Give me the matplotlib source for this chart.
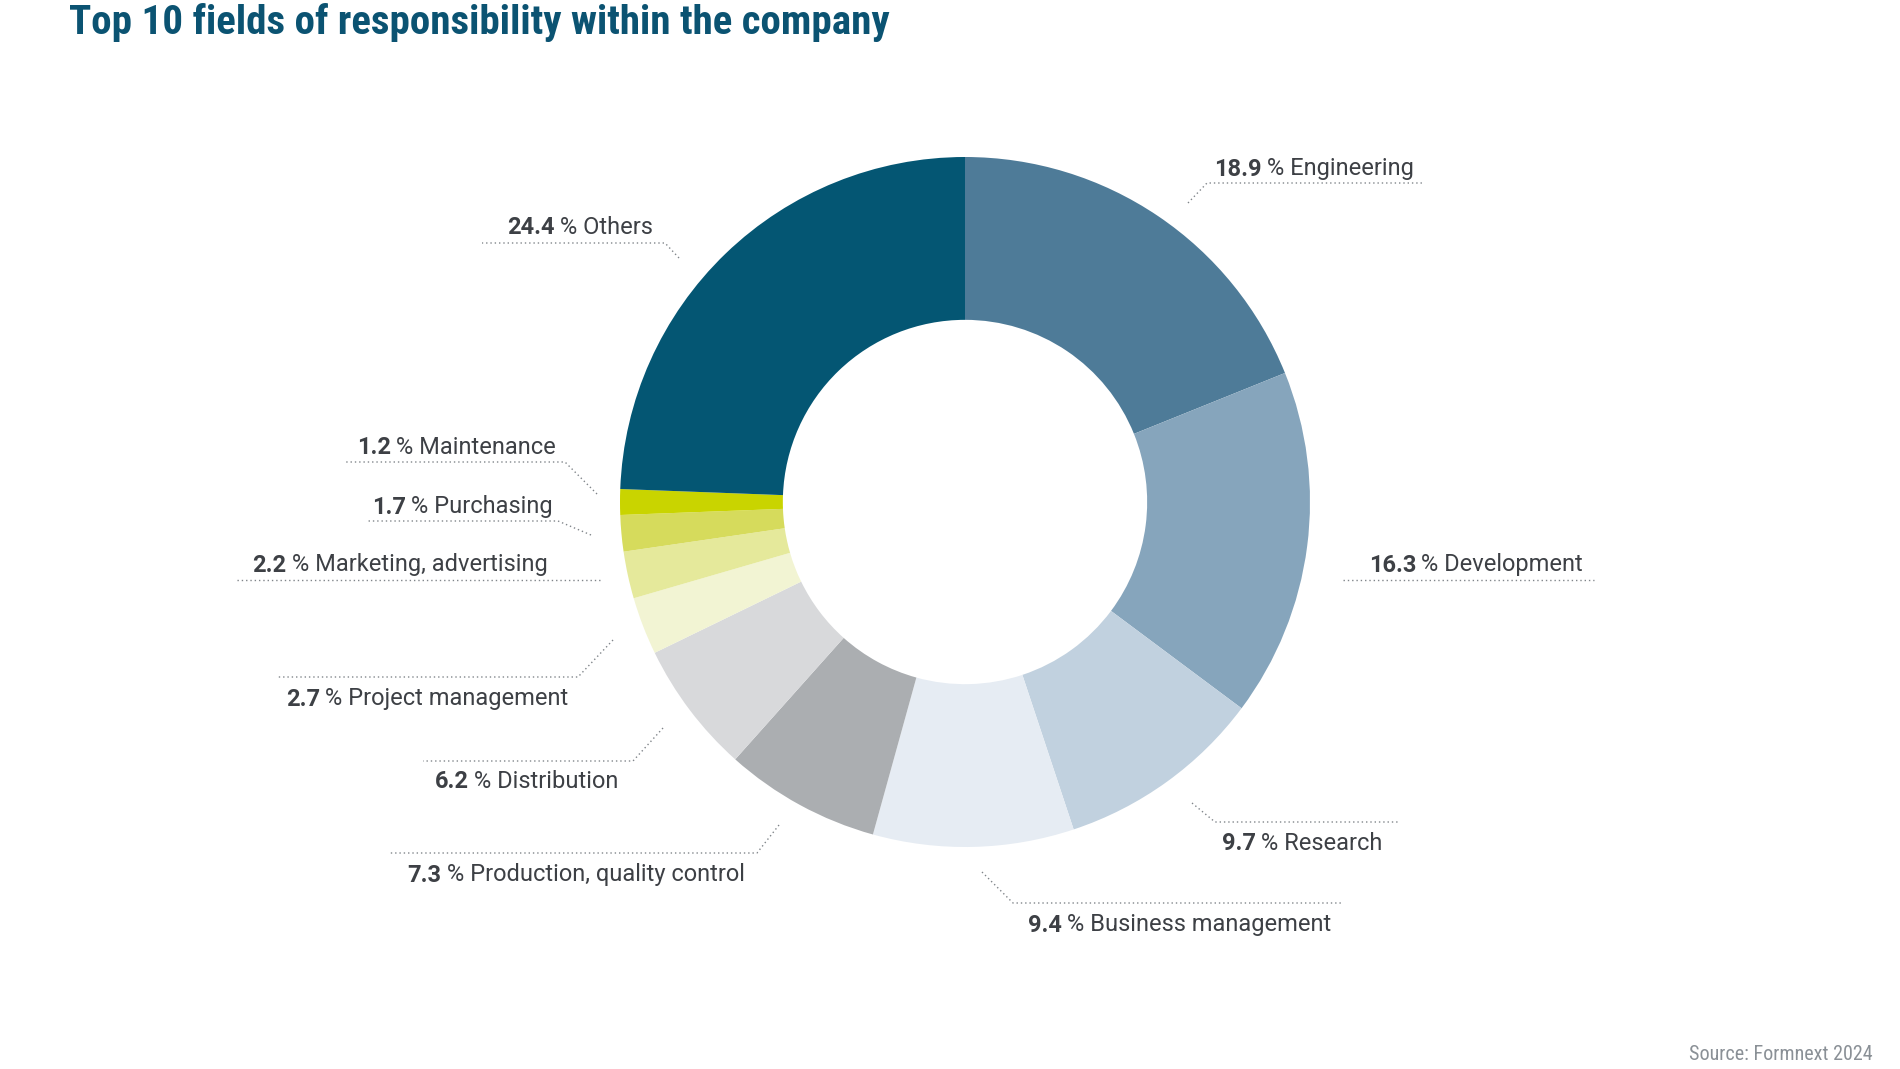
import matplotlib
matplotlib.use("Agg")
import matplotlib.pyplot as plt

# data, clockwise from 12 o'clock
fields = ["Engineering", "Development", "Research", "Business management",
          "Production, quality control", "Distribution", "Project management",
          "Marketing, advertising", "Purchasing", "Maintenance", "Others"]
shares = [18.9, 16.3, 9.7, 9.4, 7.3, 6.2, 2.7, 2.2, 1.7, 1.2, 24.4]
pct_labels = ["18.9", "16.3", "9.7", "9.4", "7.3", "6.2", "2.7", "2.2", "1.7", "1.2", "24.4"]

colors = ["#4e7b98", "#86a5bc", "#c1d1df", "#e6ecf3", "#abaeb1", "#d8d9db",
          "#f2f4d3", "#e5e99b", "#d6db5c", "#c9d400", "#045673"]

# label layout in pixels (x right, y down): leader start (None = straight line),
# elbow, far end of the underline, text centre
starts = [(1188, 203), None, (1192, 803), (982, 872), (779, 825), (663, 728),
          (613, 640), None, (591, 535), (597, 494), (679, 258)]
elbows = [(1207, 183), (1343, 580), (1215, 822), (1013, 903), (757, 853), (633, 761),
          (578, 677), (600, 580), (558, 521), (565, 462), (665, 243)]
line_end = [1423, 1594, 1398, 1343, 390, 423, 277, 235, 367, 345, 482]
text_pos = [(1314, 169), (1476, 565), (1302, 844), (1180, 925), (576, 875), (527, 781),
            (427, 699), (400, 565), (462, 507), (456, 447), (580, 227)]

W, H = 1900, 1069
CX, CY, R = 965, 502, 345

fig = plt.figure(figsize=(W / 100, H / 100), dpi=100)
fig.patch.set_facecolor("white")

ax = fig.add_axes([(CX - R) / W, 1 - (CY + R) / H, 2 * R / W, 2 * R / H])
ax.pie(shares, colors=colors, startangle=90, counterclock=False,
       radius=1, wedgeprops=dict(width=0.472, linewidth=0))
ax.set_xlim(-1, 1)
ax.set_ylim(-1, 1)
ax.axis("off")

ov = fig.add_axes([0, 0, 1, 1])
ov.set_xlim(0, W)
ov.set_ylim(H, 0)
ov.axis("off")

txt_color = "#3d4045"
lead_color = "#80858a"
fam = ["Roboto", "DejaVu Sans"]

for i in range(len(fields)):
    ex, ey = elbows[i]
    xs, ys = [ex, line_end[i]], [ey, ey]
    if starts[i] is not None:
        xs = [starts[i][0]] + xs
        ys = [starts[i][1]] + ys
    ov.plot(xs, ys, color=lead_color, lw=1.0, linestyle=(0, (1, 2.1)),
            dash_capstyle="butt")

# two-part labels: bold number + regular rest, centred as a whole
fig.canvas.draw()
renderer = fig.canvas.get_renderer()
for i in range(len(fields)):
    tx, ty = text_pos[i]
    b = ov.text(0, ty, pct_labels[i], fontsize=17, fontweight="bold",
                family=fam, color=txt_color, va="center", ha="left")
    r = ov.text(0, ty, "\u2009% " + fields[i], fontsize=17, family=fam,
                color=txt_color, va="center", ha="left")
    wb = b.get_window_extent(renderer).width
    wr = r.get_window_extent(renderer).width
    x0 = tx - (wb + wr) / 2
    b.set_x(x0)
    r.set_x(x0 + wb)

cond = ["Liberation Sans Narrow", "Roboto Condensed", "DejaVu Sans"]
ov.text(69, 22, "Top 10 fields of responsibility within the company",
        fontsize=29.5, fontweight="bold", color="#0b5372", family=cond,
        va="center", ha="left")

ov.text(1873, 1055, "Source: Formnext 2024", fontsize=14.5, color="#8a9096",
        family=cond, va="center", ha="right")

fig.savefig("out.png", dpi=100, facecolor="white")
